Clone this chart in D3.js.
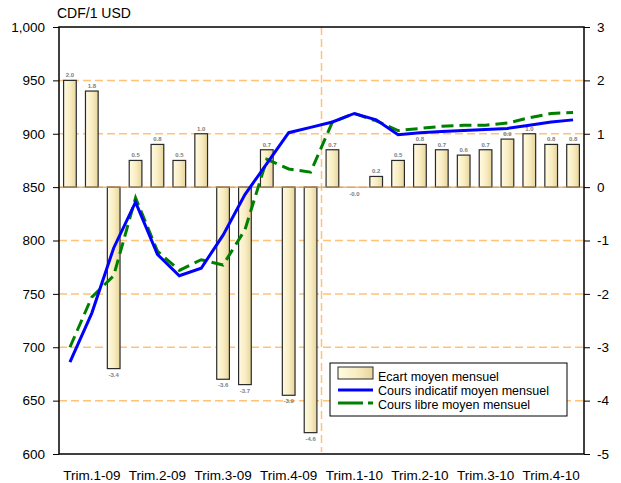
<!DOCTYPE html>
<html>
<head>
<meta charset="utf-8">
<script src="https://cdn.jsdelivr.net/npm/d3@7"></script>
<style>
  body { margin: 0; background: #fff; }
  svg { font-family: "Liberation Sans", Arial, sans-serif; }
</style>
</head>
<body>
<svg id="chart" width="621" height="483"></svg>
<script>
// data
const months = ['Jan-09', 'Fev-09', 'Mar-09', 'Avr-09', 'Mai-09', 'Jun-09', 'Jul-09', 'Aou-09', 'Sep-09', 'Oct-09', 'Nov-09', 'Dec-09',
  'Jan-10', 'Fev-10', 'Mar-10', 'Avr-10', 'Mai-10', 'Jun-10', 'Jul-10', 'Aou-10', 'Sep-10', 'Oct-10', 'Nov-10', 'Dec-10'];
const quarterLabels = ['Trim.1-09', 'Trim.2-09', 'Trim.3-09', 'Trim.4-09', 'Trim.1-10', 'Trim.2-10', 'Trim.3-10', 'Trim.4-10'];
const ecart = [2.0, 1.8, -3.4, 0.5, 0.8, 0.5, 1.0, -3.6, -3.7, 0.7, -3.9, -4.6,
  0.7, -0.02, 0.2, 0.5, 0.8, 0.7, 0.6, 0.7, 0.9, 1.0, 0.8, 0.8];
const coursIndicatif = [686, 732, 793, 836, 787, 767, 774, 805, 843, 872, 901, 906,
  911, 919, 913, 899, 901, 902, 903, 904, 905, 908, 911, 913];
const coursLibre = [700, 747, 767, 840, 790, 772, 782, 777, 810, 876, 867, 864,
  911, 919, 912, 903, 905, 907, 908, 908, 910, 915, 919, 920];
const leftTicks = [600, 650, 700, 750, 800, 850, 900, 950, 1000];
const rightTicks = [-5, -4, -3, -2, -1, 0, 1, 2, 3];
const seriesNames = ['Ecart moyen mensuel', 'Cours indicatif moyen mensuel', 'Cours libre moyen mensuel'];

const margin = { top: 27, right: 37, bottom: 29, left: 59 };
const width = 621 - margin.left - margin.right;
const height = 483 - margin.top - margin.bottom;

const svg = d3.select('#chart');

// bar gradient
const grad = svg.append('defs').append('linearGradient')
  .attr('id', 'barFill').attr('x1', '0%').attr('x2', '100%');
grad.append('stop').attr('offset', '0%').attr('stop-color', '#fffbe4');
grad.append('stop').attr('offset', '55%').attr('stop-color', '#f8ecc0');
grad.append('stop').attr('offset', '100%').attr('stop-color', '#e6d49c');

const g = svg.append('g')
  .attr('transform', `translate(${margin.left},${margin.top})`);

const x = d3.scaleBand()
  .domain(months)
  .range([0, width])
  .paddingInner(0.42)
  .paddingOuter(0.21);

const xq = d3.scaleBand()
  .domain(quarterLabels)
  .range([0, width]);

const yL = d3.scaleLinear().domain([600, 1000]).range([height, 0]);
const yR = d3.scaleLinear().domain([-5, 3]).range([height, 0]);

// Add grid
g.append('g')
  .selectAll('line')
  .data(leftTicks.filter(d => d > 600 && d < 1000))
  .enter()
  .append('line')
  .attr('x1', 0)
  .attr('x2', width)
  .attr('y1', d => yL(d))
  .attr('y2', d => yL(d))
  .attr('stroke', '#ffc278')
  .attr('stroke-width', 1.5)
  .attr('stroke-dasharray', '8,4');

// year separator
g.append('line')
  .attr('x1', x('Jan-10') - x.step() * x.paddingInner() / 2)
  .attr('x2', x('Jan-10') - x.step() * x.paddingInner() / 2)
  .attr('y1', 0)
  .attr('y2', height - 2)
  .attr('stroke', '#ffc278')
  .attr('stroke-width', 1.5)
  .attr('stroke-dasharray', '8,4');

// Add bars (near-zero values show no bar, only the label)
g.selectAll('.bar')
  .data(ecart)
  .enter()
  .append('rect')
  .attr('class', 'bar')
  .attr('x', (d, i) => x(months[i]))
  .attr('width', x.bandwidth())
  .attr('y', d => yR(Math.max(0, d)))
  .attr('height', d => Math.abs(yR(d) - yR(0)))
  .attr('display', d => Math.abs(d) < 0.05 ? 'none' : null)
  .attr('fill', 'url(#barFill)')
  .attr('stroke', '#2a2a2a')
  .attr('stroke-width', 1.2);

// zero line of the bars
g.append('line')
  .attr('x1', 0)
  .attr('x2', width)
  .attr('y1', yR(0))
  .attr('y2', yR(0))
  .attr('stroke', '#c89a58')
  .attr('stroke-width', 1);

// bar value labels
g.selectAll('.bar-label')
  .data(ecart)
  .enter()
  .append('text')
  .attr('class', 'bar-label')
  .attr('x', (d, i) => x(months[i]) + x.bandwidth() / 2)
  .attr('y', d => d >= 0 ? yR(d) - 3 : yR(d) + 8)
  .attr('text-anchor', 'middle')
  .style('font-size', '6px')
  .style('font-weight', 'bold')
  .style('fill', '#808080')
  .text(d => d.toFixed(1));

// lines
const lineL = d3.line()
  .x((d, i) => x(months[i]) + x.bandwidth() / 2)
  .y(d => yL(d));

g.append('path')
  .datum(coursLibre)
  .attr('d', lineL)
  .attr('fill', 'none')
  .attr('stroke', '#008000')
  .attr('stroke-width', 3)
  .attr('stroke-dasharray', '12,6');

g.append('path')
  .datum(coursIndicatif)
  .attr('d', lineL)
  .attr('fill', 'none')
  .attr('stroke', '#0000ff')
  .attr('stroke-width', 3);

// frame
g.append('rect')
  .attr('width', width)
  .attr('height', height)
  .attr('fill', 'none')
  .attr('stroke', '#000')
  .attr('stroke-width', 1.5);

// Add Y axes
const axL = g.append('g')
  .call(d3.axisLeft(yL).tickValues(leftTicks).tickSize(6).tickPadding(8).tickFormat(d3.format(',')));
axL.select('.domain').remove();
axL.selectAll('text').style('font-size', '13.5px').style('fill', '#000');

const axR = g.append('g')
  .attr('transform', `translate(${width},0)`)
  .call(d3.axisRight(yR).tickValues(rightTicks).tickSize(6).tickPadding(7).tickFormat(d => String(d)));
axR.select('.domain').remove();
axR.selectAll('text').style('font-size', '13.5px').style('fill', '#000');

// quarter labels
g.selectAll('.q-label')
  .data(quarterLabels)
  .enter()
  .append('text')
  .attr('class', 'q-label')
  .attr('x', d => xq(d) + xq.bandwidth() / 2)
  .attr('y', height + 26)
  .attr('text-anchor', 'middle')
  .style('font-size', '13.5px')
  .text(d => d);

// unit title
svg.append('text')
  .attr('x', 57)
  .attr('y', 18)
  .style('font-size', '14px')
  .text('CDF/1 USD');

// legend
const lg = svg.append('g').attr('transform', 'translate(330,363)');
lg.append('rect')
  .attr('width', 237)
  .attr('height', 53)
  .attr('fill', '#fff')
  .attr('stroke', '#000')
  .attr('stroke-width', 1);

lg.append('rect')
  .attr('x', 8).attr('y', 4)
  .attr('width', 35).attr('height', 12)
  .attr('fill', 'url(#barFill)')
  .attr('stroke', '#2a2a2a');
lg.append('line')
  .attr('x1', 8).attr('x2', 43).attr('y1', 27).attr('y2', 27)
  .attr('stroke', '#0000ff').attr('stroke-width', 3);
lg.append('line')
  .attr('x1', 8).attr('x2', 43).attr('y1', 40).attr('y2', 40)
  .attr('stroke', '#008000').attr('stroke-width', 3)
  .attr('stroke-dasharray', '25,5');

lg.selectAll('.lg-text')
  .data(seriesNames)
  .enter()
  .append('text')
  .attr('class', 'lg-text')
  .attr('x', 48)
  .attr('y', (d, i) => 13.5 + i * 14.2)
  .attr('dy', '0.35em')
  .style('font-size', '12.5px')
  .text(d => d);
</script>
</body>
</html>
